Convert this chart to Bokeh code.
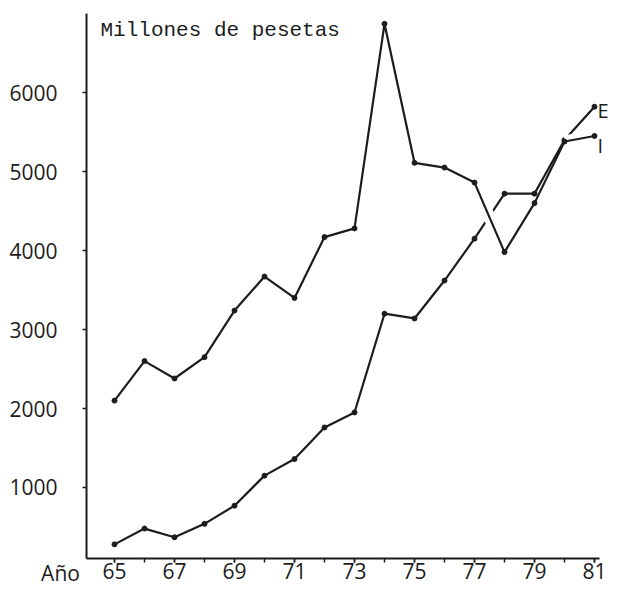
from bokeh.plotting import figure
from bokeh.models import FixedTicker, Range1d
from bokeh.core.properties import value
from bokeh.embed import file_html
from bokeh.resources import INLINE

# ---- data ----
years = list(range(65, 82))
serie_i = [2100, 2600, 2380, 2650, 3240, 3670, 3400, 4170, 4280, 6870,
           5110, 5050, 4860, 3980, 4600, 5380, 5450]
serie_e = [280, 480, 370, 540, 770, 1150, 1360, 1760, 1950, 3200,
           3140, 3620, 4150, 4720, 4720, 5400, 5820]
# segments of series I that pass in front of series E (index of segment start)
cruces_i = [12, 15]
x_label_years = [65, 67, 69, 71, 73, 75, 77, 79, 81]
x_labels = ["65", "67", "69", "71", "73", "75", "77", "79", "81"]
y_ticks = [1000, 2000, 3000, 4000, 5000, 6000]
y_labels = ["1000", "2000", "3000", "4000", "5000", "6000"]
titulo = "Millones de pesetas"
eje_x_titulo = "Año"
nombre_e = "E"
nombre_i = "I"

INK = "#1c1c1c"
TICK_FONT = "Open Sans"
X_AXIS_AT = 64.07     # year position of the vertical axis
Y_AXIS_AT = 95        # value position of the horizontal axis
Y_TOP = 7000

p = figure(width=609, height=587, output_backend="svg", toolbar_location=None,
           x_range=Range1d(61.2, 81.5), y_range=Range1d(-266, 7165),
           min_border_left=0, min_border_right=0, min_border_top=0,
           min_border_bottom=0)
p.outline_line_color = None
p.grid.visible = False
p.background_fill_color = "white"
p.border_fill_color = "white"

for ax in (p.xaxis[0], p.yaxis[0]):
    ax.axis_line_color = INK
    ax.axis_line_width = 2
    ax.major_tick_line_color = INK
    ax.major_tick_line_width = 1.5
    ax.minor_tick_line_color = INK
    ax.minor_tick_line_width = 1.5
    ax.major_tick_in = 0
    ax.major_tick_out = 4
    ax.minor_tick_in = 0
    ax.minor_tick_out = 4
    ax.major_label_text_font = TICK_FONT
    ax.major_label_text_font_size = "21px"
    ax.major_label_text_color = INK

p.xaxis.fixed_location = Y_AXIS_AT
p.xaxis.bounds = (X_AXIS_AT, years[-1] + 0.17)
p.xaxis.ticker = FixedTicker(ticks=x_label_years, minor_ticks=years)
p.xaxis.major_label_overrides = dict(zip(x_label_years, x_labels))
p.xaxis.major_label_standoff = 0

p.yaxis.fixed_location = X_AXIS_AT
p.yaxis.bounds = (Y_AXIS_AT, Y_TOP)
p.yaxis.ticker = FixedTicker(ticks=y_ticks)
p.yaxis.minor_tick_line_color = None
p.yaxis.major_label_overrides = dict(zip(y_ticks, y_labels))
p.yaxis.major_label_standoff = 25

# series E (behind)
p.line(years, serie_e, line_color=INK, line_width=2.2)
p.scatter(years, serie_e, size=5, color=INK)

# white halo where series I crosses in front of E
p.segment(x0=[years[k] for k in cruces_i], y0=[serie_i[k] for k in cruces_i],
          x1=[years[k + 1] for k in cruces_i], y1=[serie_i[k + 1] for k in cruces_i],
          line_color="white", line_width=12)

# series I
p.line(years, serie_i, line_color=INK, line_width=2.2)
p.scatter(years, serie_i, size=5, color=INK)

# end labels
p.text(x=[years[-1], years[-1]], y=[serie_e[-1], serie_i[-1]],
       text=[nombre_e, nombre_i], x_offset=3, y_offset=[4, 10],
       text_font=value(TICK_FONT), text_font_size="20px", text_color=INK,
       text_align="left", text_baseline="middle")

# title inside the plot, and the "Año" word left of the year labels
p.text(x=[64.533], y=[6785], text=[titulo], text_font=value("Liberation Mono"),
       text_font_size="21px", text_color=INK,
       text_align="left", text_baseline="middle")
p.text(x=[63.2], y=[Y_AXIS_AT], text=[eje_x_titulo], text_font=value(TICK_FONT),
       text_font_size="21px", text_color=INK, y_offset=14,
       text_align="center", text_baseline="alphabetic")

open("out.html", "w").write(file_html(p, INLINE))
